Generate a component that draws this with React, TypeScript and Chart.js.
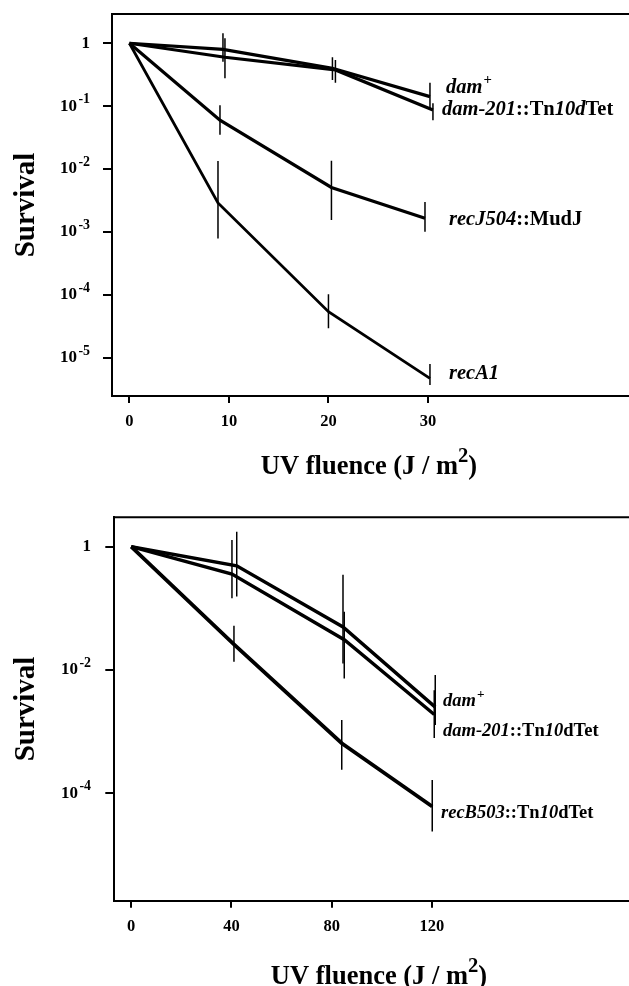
import React, { useEffect, useRef } from 'react';
import { Chart, registerables } from 'chart.js';
Chart.register(...registerables);

const FONT = '"Liberation Serif", "Times New Roman", serif';

// ---------- Top panel data ----------
const topXTicks = [0, 10, 20, 30];
const topYTicks = [1, 1e-1, 1e-2, 1e-3, 1e-4, 1e-5];

const topDamPlusX = [0, 9.4, 20.4, 30.2];
const topDamPlusY = [1, 0.8, 0.4, 0.142];
const topDamPlusLo = [null, 0.51, 0.26, 0.092];
const topDamPlusHi = [null, 1.44, 0.6, 0.236];

const topDam201X = [0, 9.6, 20.7, 30.5];
const topDam201Y = [1, 0.6, 0.377, 0.087];
const topDam201Lo = [null, 0.278, 0.236, 0.06];
const topDam201Hi = [null, 1.2, 0.54, 0.111];

const topRecJX = [0, 9.1, 20.3, 29.7];
const topRecJY = [1, 0.06, 0.0051, 0.00165];
const topRecJLo = [null, 0.035, 0.00155, 0.00101];
const topRecJHi = [null, 0.103, 0.0136, 0.003];

const topRecAX = [0, 8.9, 20.0, 30.2];
const topRecAY = [1, 0.0029, 5.4e-5, 4.7e-6];
const topRecALo = [null, 7.9e-4, 2.95e-5, 3.7e-6];
const topRecAHi = [null, 0.0135, 1.02e-4, 8e-6];

// ---------- Bottom panel data ----------
const botXTicks = [0, 40, 80, 120];
const botYTicks = [1, 1e-2, 1e-4];

const botDamPlusX = [0, 42.1, 84.5, 121.3];
const botDamPlusY = [1, 0.49, 0.05, 0.0025];
const botDamPlusLo = [null, 0.155, 0.0128, 0.00128];
const botDamPlusHi = [null, 1.75, 0.35, 0.0083];

const botDam201X = [0, 40.2, 85.0, 120.9];
const botDam201Y = [1, 0.36, 0.031, 0.0019];
const botDam201Lo = [null, 0.146, 0.0073, 7.9e-4];
const botDam201Hi = [null, 1.28, 0.088, 0.0047];

const botRecBX = [0, 41, 84, 120.1];
const botRecBY = [1, 0.026, 6.5e-4, 6.1e-5];
const botRecBLo = [null, 0.0136, 2.4e-4, 2.4e-5];
const botRecBHi = [null, 0.052, 0.00155, 1.64e-4];

// ---------- Text ----------
type Seg = { t: string; i?: boolean; sup?: boolean; gap?: number };
const labelDamPlus: Seg[] = [{ t: 'dam', i: true }, { t: '+', sup: true, gap: 1 }];
const labelDam201Top: Seg[] = [{ t: 'dam-201', i: true }, { t: '::Tn' }, { t: '10d', i: true }, { t: 'Tet' }];
const labelRecJ: Seg[] = [{ t: 'recJ504', i: true }, { t: '::MudJ' }];
const labelRecA: Seg[] = [{ t: 'recA1', i: true }];
const labelDam201Bot: Seg[] = [{ t: 'dam-201', i: true }, { t: '::Tn' }, { t: '10', i: true }, { t: 'dTet' }];
const labelRecB: Seg[] = [{ t: 'recB503', i: true }, { t: '::Tn' }, { t: '10', i: true }, { t: 'dTet' }];
const xTitle: Seg[] = [{ t: 'UV fluence (J / m' }, { t: '2', sup: true }, { t: ')' }];
const yTitle = 'Survival';

function drawRich(ctx: CanvasRenderingContext2D, segs: Seg[], x: number, y: number, size: number, align: 'left' | 'right' | 'center', supRatio = 0.75) {
  const supSize = size * supRatio;
  const fontFor = (s: Seg) => `${s.i ? 'italic ' : ''}bold ${s.sup ? supSize : size}px ${FONT}`;
  let total = 0;
  const widths = segs.map((s) => {
    ctx.font = fontFor(s);
    const w = ctx.measureText(s.t).width + (s.gap || 0);
    total += w;
    return w;
  });
  let cx = align === 'left' ? x : align === 'right' ? x - total : x - total / 2;
  ctx.textBaseline = 'middle';
  ctx.textAlign = 'left';
  ctx.fillStyle = '#000';
  segs.forEach((s, k) => {
    ctx.font = fontFor(s);
    ctx.fillText(s.t, cx + (s.gap || 0), s.sup ? y - size * 0.38 : y);
    cx += widths[k];
  });
}

function tickSegs(v: number): Seg[] {
  if (v === 1) return [{ t: '1' }];
  const e = Math.round(Math.log10(v));
  return [{ t: '10' }, { t: String(e), sup: true, gap: 1.5 }];
}

const mkSeries = (xs: number[], ys: number[], w: number) => ({
  data: xs.map((x, i) => ({ x, y: ys[i] })),
  borderColor: '#000',
  borderWidth: w,
  pointRadius: 0,
  tension: 0,
  fill: false,
});

const mkErr = (xs: number[], lo: (number | null)[], hi: (number | null)[]) => ({
  data: xs.flatMap((x, i) => (lo[i] == null ? [] : [{ x, y: lo[i] }, { x, y: hi[i] }, { x, y: null }])),
  borderColor: '#000',
  borderWidth: 1.5,
  pointRadius: 0,
  spanGaps: false,
  fill: false,
});

type PanelCfg = {
  series: any[];
  xTicks: number[];
  yTicks: number[];
  xMin: number; xMax: number; yMin: number; yMax: number;
  padTop: number; yAxisW: number; xAxisH: number;
  yLabelRight: number;
  labels: { segs: Seg[]; x: number; y: number }[];
  labelSize: number;
  xTitlePos: { x: number; y: number };
};

const topCfg: PanelCfg = {
  series: [
    mkSeries(topDamPlusX, topDamPlusY, 3.2), mkErr(topDamPlusX, topDamPlusLo, topDamPlusHi),
    mkSeries(topDam201X, topDam201Y, 3.2), mkErr(topDam201X, topDam201Lo, topDam201Hi),
    mkSeries(topRecJX, topRecJY, 3.2), mkErr(topRecJX, topRecJLo, topRecJHi),
    mkSeries(topRecAX, topRecAY, 2.8), mkErr(topRecAX, topRecALo, topRecAHi),
  ],
  xTicks: topXTicks, yTicks: topYTicks,
  xMin: -1.75, xMax: 50.2, yMin: 2.47e-6, yMax: 2.92,
  padTop: 14, yAxisW: 112, xAxisH: 97,
  yLabelRight: 90,
  labels: [
    { segs: labelDamPlus, x: 446, y: 88 },
    { segs: labelDam201Top, x: 442, y: 110 },
    { segs: labelRecJ, x: 449, y: 220 },
    { segs: labelRecA, x: 449, y: 374 },
  ],
  labelSize: 20.5,
  xTitlePos: { x: 369, y: 466.7 },
};

const botCfg: PanelCfg = {
  series: [
    mkSeries(botDamPlusX, botDamPlusY, 3.4), mkErr(botDamPlusX, botDamPlusLo, botDamPlusHi),
    mkSeries(botDam201X, botDam201Y, 3.4), mkErr(botDam201X, botDam201Lo, botDam201Hi),
    mkSeries(botRecBX, botRecBY, 3.8), mkErr(botRecBX, botRecBLo, botRecBHi),
  ],
  xTicks: botXTicks, yTicks: botYTicks,
  xMin: -6.74, xMax: 198.6, yMin: 1.81e-6, yMax: 3.0,
  padTop: 24.3, yAxisW: 114.3, xAxisH: 85.3,
  yLabelRight: 91,
  labels: [
    { segs: labelDamPlus, x: 443, y: 208.7 },
    { segs: labelDam201Bot, x: 443, y: 238.7 },
    { segs: labelRecB, x: 441, y: 320.3 },
  ],
  labelSize: 18.5,
  xTitlePos: { x: 379, y: 483.7 },
};

function Panel({ cfg, width, height }: { cfg: PanelCfg; width: number; height: number }) {
  const ref = useRef<HTMLCanvasElement>(null);
  useEffect(() => {
    if (!ref.current) return;
    const overlay = {
      id: 'overlay',
      afterDraw(chart: any) {
        const ctx: CanvasRenderingContext2D = chart.ctx;
        const a = chart.chartArea;
        ctx.save();
        ctx.strokeStyle = '#000';
        ctx.lineWidth = 2;
        ctx.beginPath();
        ctx.moveTo(a.left - 1, a.top);
        ctx.lineTo(chart.width, a.top);
        ctx.stroke();
        const ys = chart.scales.y;
        cfg.yTicks.forEach((v) => {
          drawRich(ctx, tickSegs(v), cfg.yLabelRight, ys.getPixelForValue(v), 17, 'right', 0.82);
        });
        cfg.labels.forEach((l) => drawRich(ctx, l.segs, l.x, l.y, cfg.labelSize, 'left', 0.72));
        drawRich(ctx, xTitle, cfg.xTitlePos.x, cfg.xTitlePos.y, 26.5, 'center', 0.78);
        ctx.restore();
      },
    };
    const chart = new Chart(ref.current, {
      type: 'line',
      data: { datasets: cfg.series as any },
      options: {
        responsive: false,
        animation: false,
        devicePixelRatio: 1,
        events: [],
        layout: { padding: { left: 0, right: 0, top: cfg.padTop, bottom: 0 } },
        plugins: { legend: { display: false }, tooltip: { enabled: false } },
        scales: {
          x: {
            type: 'linear',
            min: cfg.xMin,
            max: cfg.xMax,
            bounds: 'data',
            afterBuildTicks: (s: any) => { s.ticks = cfg.xTicks.map((v) => ({ value: v })); },
            afterFit: (s: any) => { s.height = cfg.xAxisH; },
            ticks: { font: { family: FONT, size: 16.5, weight: 'bold' }, color: '#000', padding: 9, maxRotation: 0, autoSkip: false },
            grid: { display: true, drawOnChartArea: false, drawTicks: true, tickLength: 7, color: '#000', lineWidth: 2 },
            border: { display: true, color: '#000', width: 2 },
          },
          y: {
            type: 'logarithmic',
            min: cfg.yMin,
            max: cfg.yMax,
            bounds: 'data',
            afterBuildTicks: (s: any) => { s.ticks = cfg.yTicks.map((v) => ({ value: v })); },
            afterFit: (s: any) => { s.width = cfg.yAxisW; },
            ticks: { display: false },
            grid: { display: true, drawOnChartArea: false, drawTicks: true, tickLength: 9, color: '#000', lineWidth: 2 },
            border: { display: true, color: '#000', width: 2 },
            title: { display: true, text: yTitle, color: '#000', font: { family: FONT, size: 29, weight: 'bold' }, padding: { top: 9, bottom: 0 } },
          },
        },
      } as any,
      plugins: [overlay],
    });
    return () => chart.destroy();
  }, [cfg]);
  return <canvas ref={ref} width={width} height={height} style={{ display: 'block', width, height }} />;
}

export default function App() {
  return (
    <div style={{ position: 'fixed', left: 0, top: 0, width: 629, height: 986, overflow: 'hidden', background: '#fff' }}>
      <Panel cfg={topCfg} width={629} height={493} />
      <Panel cfg={botCfg} width={629} height={493} />
    </div>
  );
}
